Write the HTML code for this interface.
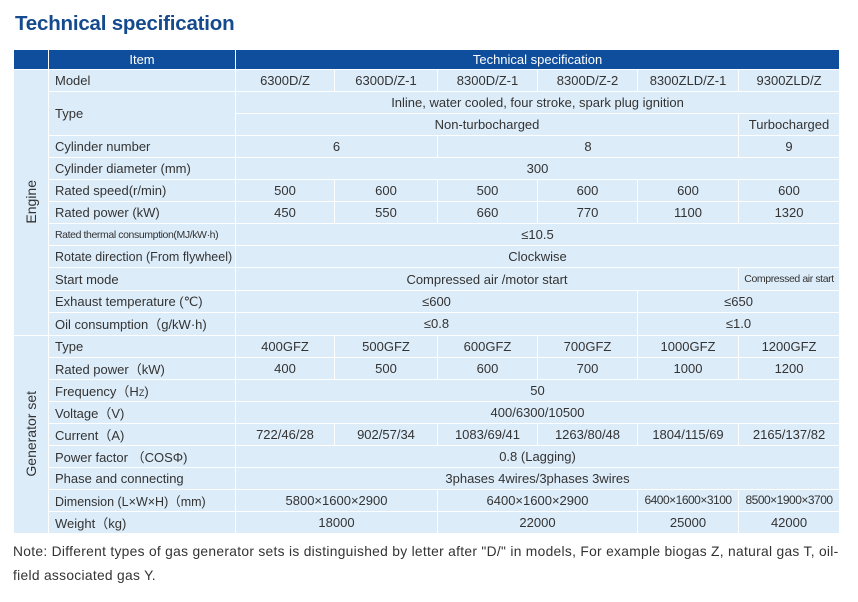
<!DOCTYPE html>
<html><head><meta charset="utf-8"><style>
body{margin:0;width:858px;height:602px;background:#fff;font-family:"Liberation Sans",sans-serif;color:#333;position:relative;overflow:hidden}
h1{position:absolute;left:15px;top:12px;margin:0;font-size:20.5px;font-weight:bold;color:#154a8e;letter-spacing:-0.2px}
table{position:absolute;left:13px;top:49px;border-collapse:collapse;table-layout:fixed;width:826px}
tr{height:22.05px}
td{background:#dcecf9;border:1.5px solid #fff;padding:0;text-align:center;font-size:13px;white-space:nowrap;overflow:hidden}
td.l{text-align:left;padding-left:6px}
tr.h{height:20px}
tr.h td{background:#0f4e9c;color:#fff}
td.v div{writing-mode:vertical-rl;transform:rotate(180deg);white-space:nowrap;font-size:14px;margin:0 auto}
.s{font-size:10.5px;letter-spacing:-0.4px}
.note{position:absolute;left:13px;top:540px;font-size:13.8px;line-height:24px;color:#333;width:845px;white-space:nowrap;letter-spacing:0.3px}
</style></head><body>
<h1>Technical specification</h1>
<table>
<colgroup><col style="width:35px"><col style="width:187px"><col style="width:99px"><col style="width:103px"><col style="width:100px"><col style="width:100px"><col style="width:101px"><col style="width:101px"></colgroup>
<tr class="h"><td></td><td>Item</td><td colspan="6">Technical specification</td></tr>
<tr><td class="v" rowspan="12"><div>Engine</div></td><td class="l">Model</td><td>6300D/Z</td><td>6300D/Z-1</td><td>8300D/Z-1</td><td>8300D/Z-2</td><td>8300ZLD/Z-1</td><td>9300ZLD/Z</td></tr>
<tr><td class="l" rowspan="2">Type</td><td colspan="6">Inline, water cooled, four stroke, spark plug ignition</td></tr>
<tr><td colspan="5">Non-turbocharged</td><td>Turbocharged</td></tr>
<tr><td class="l">Cylinder number</td><td colspan="2">6</td><td colspan="3">8</td><td>9</td></tr>
<tr><td class="l">Cylinder diameter (mm)</td><td colspan="6">300</td></tr>
<tr><td class="l">Rated speed(r/min)</td><td>500</td><td>600</td><td>500</td><td>600</td><td>600</td><td>600</td></tr>
<tr><td class="l">Rated power (kW)</td><td>450</td><td>550</td><td>660</td><td>770</td><td>1100</td><td>1320</td></tr>
<tr><td class="l s">Rated thermal consumption(MJ/kW·h)</td><td colspan="6">≤10.5</td></tr>
<tr><td class="l" style="font-size:12.5px">Rotate direction (From flywheel)</td><td colspan="6">Clockwise</td></tr>
<tr style="height:23px"><td class="l">Start mode</td><td colspan="5">Compressed air /motor start</td><td class="s">Compressed air start</td></tr>
<tr><td class="l">Exhaust temperature (℃)</td><td colspan="4">≤600</td><td colspan="2">≤650</td></tr>
<tr><td class="l">Oil consumption（g/kW·h)</td><td colspan="4">≤0.8</td><td colspan="2">≤1.0</td></tr>
<tr><td class="v" rowspan="9"><div>Generator set</div></td><td class="l">Type</td><td>400GFZ</td><td>500GFZ</td><td>600GFZ</td><td>700GFZ</td><td>1000GFZ</td><td>1200GFZ</td></tr>
<tr><td class="l">Rated power（kW)</td><td>400</td><td>500</td><td>600</td><td>700</td><td>1000</td><td>1200</td></tr>
<tr><td class="l">Frequency（H<span style="font-size:9px">Z</span>)</td><td colspan="6">50</td></tr>
<tr><td class="l">Voltage（V)</td><td colspan="6">400/6300/10500</td></tr>
<tr><td class="l">Current（A)</td><td>722/46/28</td><td>902/57/34</td><td>1083/69/41</td><td>1263/80/48</td><td>1804/115/69</td><td>2165/137/82</td></tr>
<tr><td class="l">Power factor （COSΦ)</td><td colspan="6">0.8 (Lagging)</td></tr>
<tr><td class="l">Phase and connecting</td><td colspan="6">3phases 4wires/3phases 3wires</td></tr>
<tr><td class="l" style="font-size:12.5px">Dimension (L×W×H)（mm)</td><td colspan="2">5800×1600×2900</td><td colspan="2">6400×1600×2900</td><td style="font-size:12px;letter-spacing:-0.5px">6400×1600×3100</td><td style="font-size:12px;letter-spacing:-0.5px">8500×1900×3700</td></tr>
<tr><td class="l">Weight（kg)</td><td colspan="2">18000</td><td colspan="2">22000</td><td>25000</td><td>42000</td></tr>
</table>
<div class="note">Note: Different types of gas generator sets is distinguished by letter after "D/" in models, For example biogas Z, natural gas T, oil-<br>field associated gas Y.</div>
</body></html>
